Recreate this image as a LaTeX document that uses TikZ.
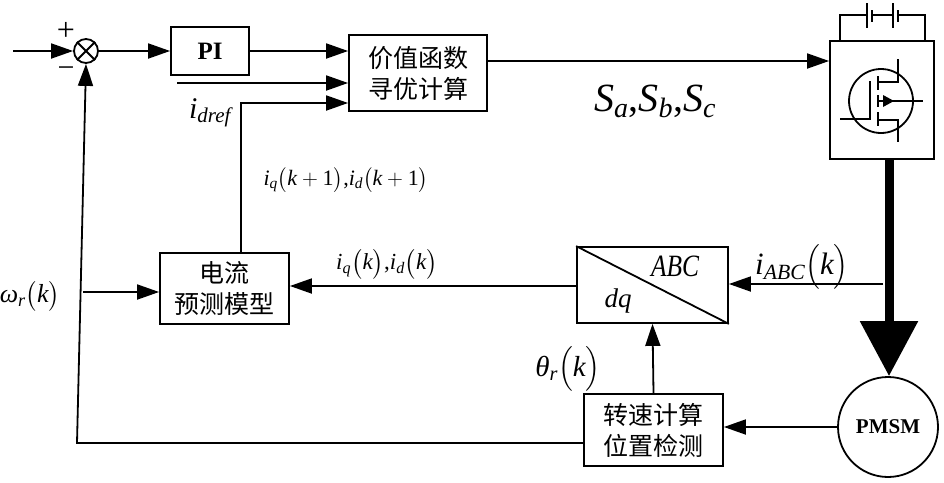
\RequirePackage{fix-cm}
\documentclass[tikz,border=0pt]{standalone}
\usepackage{amsmath}
\usepackage{fontspec}
\setmainfont{Liberation Serif}
\newfontfamily\cjk{Noto Sans CJK SC}
\usetikzlibrary{arrows.meta}
\begin{document}
\begin{tikzpicture}[x=1pt,y=-1pt,
  ln/.style={line width=1.8pt},
  blk/.style={draw, line width=1.8pt, inner sep=0pt, align=center},
  arr/.style={line width=1.8pt, -{Triangle[length=22pt,width=15pt]}},
  cn/.style={font=\cjk\fontsize{25}{31}\selectfont},
  lab/.style={inner sep=0pt}]
\useasboundingbox[fill=white] (0,0) rectangle (944,482);

% blocks
\node[blk, circle, minimum size=24pt] (sum) at (86,51) {};
\draw[ln] (sum.north west) -- (sum.south east) (sum.north east) -- (sum.south west);
\node[blk, minimum width=78pt, minimum height=48pt, font=\bfseries\fontsize{25}{25}\selectfont] (pi) at (210,51) {PI};
\node[blk, minimum width=138pt, minimum height=76pt, cn] (cost) at (418,73) {价值函数\\寻优计算};
\node[blk, minimum width=104pt, minimum height=118pt] (inv) at (882,100) {};
\node[blk, minimum width=129pt, minimum height=71pt, cn] (pred) at (224.5,288.5) {电流\\预测模型};
\node[blk, minimum width=151pt, minimum height=76pt] (abc) at (652.5,285) {};
\draw[ln] (abc.north west) -- (abc.south east);
\node[lab, font=\itshape\fontsize{31}{31}\selectfont, xscale=0.82] (tabc) at (675,266) {ABC};
\node[lab, font=\itshape\fontsize{27}{27}\selectfont] (tdq) at (618,301) {dq};
\node[blk, minimum width=139pt, minimum height=72pt, cn] (speed) at (653.5,430) {转速计算\\位置检测};
\node[blk, circle, minimum size=100pt, font=\bfseries\fontsize{21}{21}\selectfont] (pmsm) at (888,427) {PMSM};

% battery
\draw[ln] (inv.north -| 840,0) -- (840,15) -- (867,15);
\draw[ln] (867,3) -- (867,28);
\draw[ln] (872,10) -- (872,22);
\draw[ln] (872,15) -- (893,15);
\draw[ln] (893,3) -- (893,28);
\draw[ln] (898,10) -- (898,22);
\draw[ln] (898,15) -- (925,15) -- (inv.north -| 925,0);

% MOSFET
\draw[ln] (881,101) circle (32pt);
\draw[ln] (840,119) -- (870,119) -- (870,81);
\draw[ln] (878,76) -- (878,90) (878,95) -- (878,107) (878,112) -- (878,126);
\draw[ln] (878,82) -- (898,82) -- (898,59);
\draw[ln] (878,120) -- (898,120) -- (898,142);
\draw[ln] (878,101) -- (923,101);
\fill (883,95) -- (894,101) -- (883,107) -- cycle;

% connectors
\coordinate (in0) at (13,51);
\draw[arr] (in0) -- (sum.west);
\draw[arr] (sum.east) -- (pi.west);
\draw[arr] (pi.east) -- (pi.east -| cost.west);
\coordinate (in1) at (177,83);
\draw[arr] (in1) -- (in1 -| cost.west);
\coordinate (bend1) at (241,103);
\draw[arr] (pred.north -| bend1) -- (bend1) -- (bend1 -| cost.west);
\draw[arr] (cost.east |- 0,61) -- (inv.west |- 0,61);
\draw[line width=9pt, -{Triangle[length=55pt,width=56pt]}] (inv.south -| 889,0) -- (pmsm.north -| 889,0);
\coordinate (tap) at (883,284);
\draw[arr] (tap) -- (tap -| abc.east);
\draw[arr] (abc.west |- 0,286) -- (pred.east |- 0,286);
\draw[arr] (pmsm.west) -- (speed.east |- pmsm.west);
\draw[arr] (speed.north) -- (abc.south);
\coordinate (fb) at (77,443);
\draw[arr] (speed.west |- fb) -- (fb) -- (sum.south);
\coordinate (w0) at (83,292);
\draw[arr] (w0) -- (w0 -| pred.west);

% labels
\node[lab, font=\fontsize{32}{32}\selectfont] (plus) at (66,31) {+};
\node[lab, font=\fontsize{30}{30}\selectfont] (minus) at (66,72) {\textminus};
\node[lab, font=\fontsize{30}{30}\selectfont] (lidref) at (210,113) {$\textit{i}_{\textit{dref}}$};
\node[lab, font=\fontsize{22}{22}\selectfont] (lk1) at (346,180) {$\textit{i}_{\textit{q}}\bigl(\textit{k}+\text{1}\bigr)\text{,}\textit{i}_{\textit{d}}\bigl(\textit{k}+\text{1}\bigr)$};
\node[lab, font=\fontsize{23}{23}\selectfont] (lk) at (387,264) {$\textit{i}_{\textit{q}}\bigl(\textit{k}\bigr)\text{,}\textit{i}_{\textit{d}}\bigl(\textit{k}\bigr)$};
\node[lab, font=\fontsize{26}{26}\selectfont] (lw) at (30,296) {$\textit{ω}_{\textit{r}}\bigl(\textit{k}\bigr)$};
\node[lab, font=\fontsize{29}{29}\selectfont] (lth) at (568,369) {$\textit{θ}_{\textit{r}}\bigl(\textit{k}\bigr)$};
\node[lab, font=\fontsize{31}{31}\selectfont] (labc) at (802,267) {$\textit{i}_{\textit{ABC}}\bigl(\textit{k}\bigr)$};
\node[lab, font=\fontsize{40}{40}\selectfont] (ls) at (655,101) {$\textit{S}_{\textit{a}}\text{,}\textit{S}_{\textit{b}}\text{,}\textit{S}_{\textit{c}}$};
\end{tikzpicture}
\end{document}
